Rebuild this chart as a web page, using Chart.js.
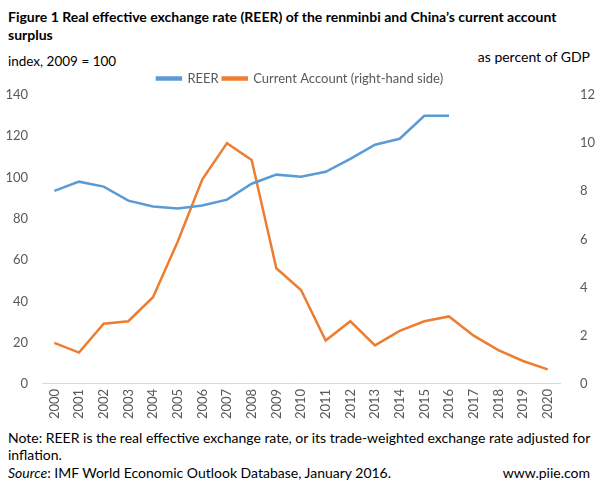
<!DOCTYPE html>
<html>
<head>
<meta charset="utf-8">
<script src="https://cdn.jsdelivr.net/npm/chart.js@4.4.1/dist/chart.umd.min.js"></script>
<style>
    body { margin: 0; background: #fff; font-family: Lato, "Open Sans", sans-serif; }
    #page { position: relative; width: 600px; height: 494px; overflow: hidden; }
    .txt { position: absolute; color: #000; white-space: nowrap; }
    #title { left: 8px; top: 8px; font-weight: bold; font-size: 14px; line-height: 18px; white-space: normal; width: 575px; }
    #leftUnit { left: 8px; top: 53px; font-size: 13.5px; }
    #rightUnit { right: 10px; top: 48px; font-size: 14px; }
    #note { left: 8px; top: 429px; font-size: 14px; line-height: 17px; white-space: normal; width: 590px; }
    #source { left: 8px; top: 464px; font-size: 14px; }
    #site { right: 10px; top: 464px; font-size: 14px; }
    #wrap { position: absolute; left: 0; top: 68px; width: 600px; height: 356px; }
</style>
</head>
<body>
<div id="page">
    <div class="txt" id="title">Figure 1 Real effective exchange rate (REER) of the renminbi and China’s current account surplus</div>
    <div class="txt" id="leftUnit">index, 2009 = 100</div>
    <div class="txt" id="rightUnit">as percent of GDP</div>
    <div id="wrap"><canvas id="chart"></canvas></div>
    <div class="txt" id="note">Note: REER is the real effective exchange rate, or its trade-weighted exchange rate adjusted for inflation.</div>
    <div class="txt" id="source"><i>Source</i>: IMF World Economic Outlook Database, January 2016.</div>
    <div class="txt" id="site">www.piie.com</div>
</div>
<script>
// data
const years = ['2000', '2001', '2002', '2003', '2004', '2005', '2006', '2007', '2008', '2009', '2010',
               '2011', '2012', '2013', '2014', '2015', '2016', '2017', '2018', '2019', '2020'];
const reer = [93.5, 98, 95.6, 88.8, 86, 85, 86.4, 89.3, 97, 101.4, 100.4,
              102.8, 109, 115.9, 118.8, 129.9, 129.9, null, null, null, null];
const currentAccount = [1.7, 1.3, 2.5, 2.6, 3.6, 5.9, 8.5, 10.0, 9.3, 4.8, 3.9,
                        1.8, 2.6, 1.6, 2.2, 2.6, 2.8, 2.0, 1.4, 0.95, 0.6];
const leftTicks = [0, 20, 40, 60, 80, 100, 120, 140];
const rightTicks = [0, 2, 4, 6, 8, 10, 12];

const tickColor = '#595959';
const tickFont = { family: 'Lato, "Open Sans", sans-serif', size: 13 };

new Chart(document.getElementById('chart'), {
    type: 'line',
    data: {
        labels: years,
        datasets: [{
            label: 'REER',
            data: reer,
            borderColor: '#5B9BD5',
            backgroundColor: '#5B9BD5',
            borderWidth: 2.5,
            pointRadius: 0,
            tension: 0,
            yAxisID: 'y'
        }, {
            label: 'Current Account (right-hand side)',
            data: currentAccount,
            borderColor: '#ED7D31',
            backgroundColor: '#ED7D31',
            borderWidth: 2.5,
            pointRadius: 0,
            tension: 0,
            yAxisID: 'y2'
        }]
    },
    options: {
        responsive: true,
        maintainAspectRatio: false,
        animation: false,
        layout: { padding: { left: 0, right: 0, top: 0, bottom: 0 } },
        plugins: {
            legend: {
                position: 'top',
                labels: {
                    boxWidth: 24,
                    boxHeight: 2,
                    padding: 4,
                    color: tickColor,
                    font: { family: 'Lato, "Open Sans", sans-serif', size: 13 }
                }
            },
            tooltip: { enabled: false }
        },
        scales: {
            x: {
                offset: true,
                grid: { display: false, drawTicks: false },
                border: { color: '#d9d9d9', width: 1 },
                ticks: { color: tickColor, font: tickFont, minRotation: 90, maxRotation: 90, autoSkip: false, padding: 5 }
            },
            y: {
                position: 'left',
                min: 0,
                max: 140,
                afterBuildTicks: (axis) => { axis.ticks = leftTicks.map(v => ({ value: v })); },
                afterFit: (axis) => { axis.width = 42; },
                grid: { display: false },
                border: { display: false },
                ticks: { color: tickColor, font: tickFont, padding: 6 }
            },
            y2: {
                position: 'right',
                min: 0,
                max: 12,
                afterBuildTicks: (axis) => { axis.ticks = rightTicks.map(v => ({ value: v })); },
                afterFit: (axis) => { axis.width = 40; },
                grid: { display: false },
                border: { display: false },
                ticks: { color: tickColor, font: tickFont, padding: 12 }
            }
        }
    }
});
</script>
</body>
</html>
